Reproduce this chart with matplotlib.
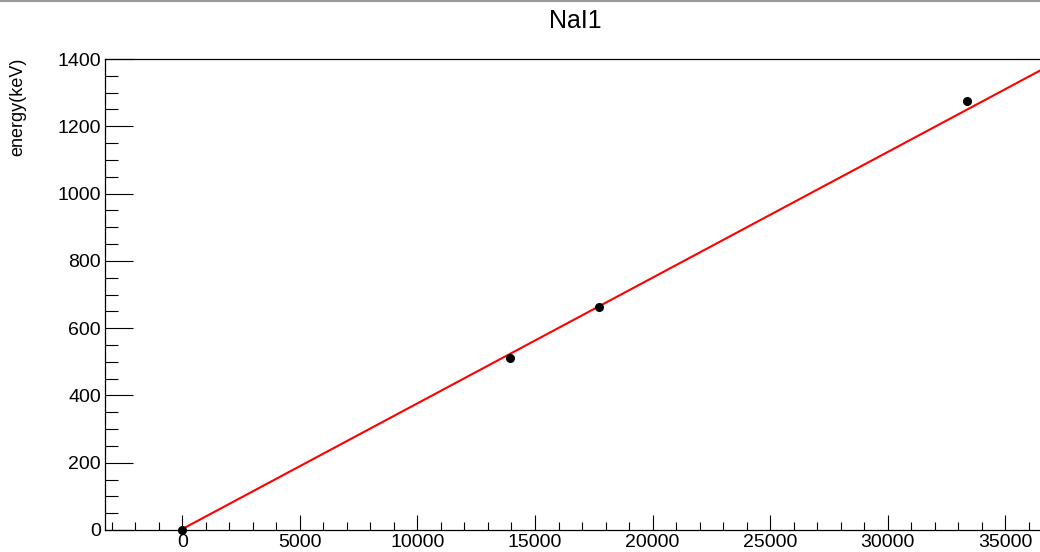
import numpy as np
import matplotlib
matplotlib.use("Agg")
import matplotlib.pyplot as plt
from matplotlib.ticker import MultipleLocator

plt.rcParams['font.family'] = ['Liberation Sans', 'DejaVu Sans']

# calibration points: ADC channel vs known gamma energy
channel = [0, 13936, 17721, 33372]
energy = [0, 511, 662, 1275]

# linear fit parameters (as drawn)
fit_slope = 0.03735
fit_offset = 3.0

title = "NaI1"
ylabel = "energy(keV)"

fig = plt.figure(figsize=(10.4, 5.52), dpi=100)
ax = fig.add_axes([105/1040, 22/552, 1 - 105/1040, (530-59)/552])

xfit = np.linspace(0, 37000, 200)
ax.plot(xfit, fit_slope*xfit + fit_offset, color="red", lw=1.5, zorder=2)
ax.plot(channel, energy, "o", color="black", ms=5.5, zorder=3, clip_on=False)

ax.set_xlim(-3290, 36480)
ax.set_ylim(0, 1400)
ax.xaxis.set_major_locator(MultipleLocator(5000))
ax.xaxis.set_minor_locator(MultipleLocator(1000))
ax.yaxis.set_major_locator(MultipleLocator(200))
ax.yaxis.set_minor_locator(MultipleLocator(50))
# tick lengths in points (px * 0.72)
ax.tick_params(axis="x", which="major", direction="in", length=11, width=0.8, labelsize=14, pad=3)
ax.tick_params(axis="x", which="minor", direction="in", length=5.8, width=0.8)
ax.tick_params(axis="y", which="major", direction="in", length=20, width=0.8, labelsize=14, pad=3)
ax.tick_params(axis="y", which="minor", direction="in", length=9.4, width=0.8)
ax.spines["right"].set_visible(False)
for s in ["left", "bottom", "top"]:
    ax.spines[s].set_linewidth(0.9)

fig.text(575/1040, 1 - 21/552, title, ha="center", va="center", fontsize=18)
fig.text(18/1040, 1 - 58/552, ylabel, ha="center", va="top", rotation=90, fontsize=13)
# canvas border line at the top
fig.add_artist(plt.Line2D([0, 1], [0.999, 0.999], color="#999999", lw=1.5, transform=fig.transFigure))

fig.savefig("out.png", dpi=100)
